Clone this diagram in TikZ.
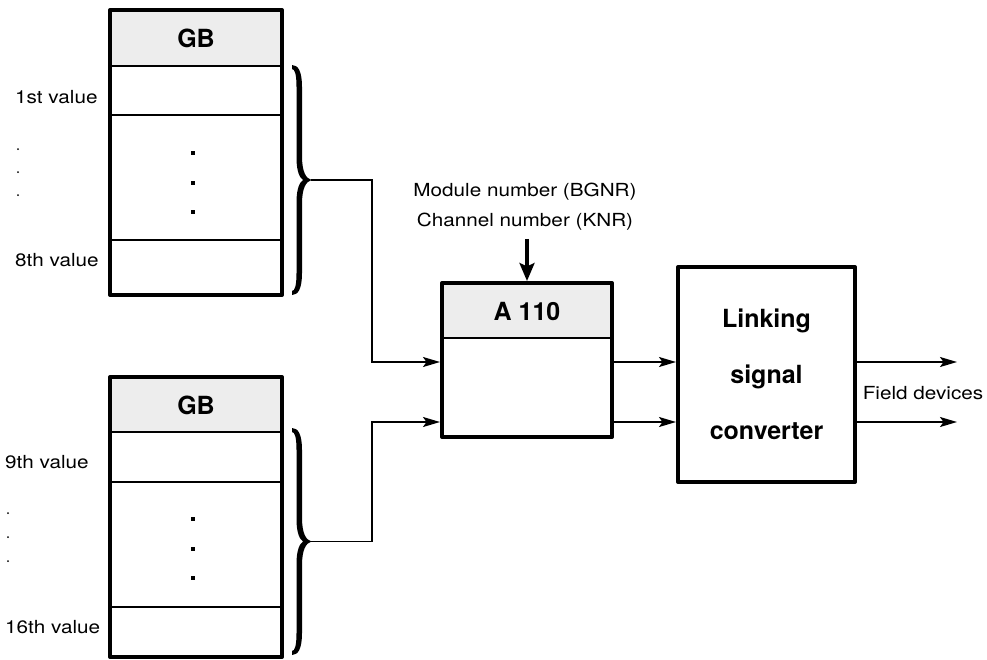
\documentclass[tikz,border=0pt]{standalone}
\usepackage{fontspec}
\setmainfont[FakeStretch=1.15]{TeX Gyre Heros}
\newfontfamily\headfam{TeX Gyre Heros}
\usetikzlibrary{arrows.meta}
\definecolor{headgray}{gray}{0.93}
\tikzset{
  frame/.style={draw, line width=4pt, line join=round},
  rowline/.style={line width=2pt},
  title/.style={font=\headfam\bfseries\fontsize{25}{28}\selectfont, inner sep=0},
  label/.style={font=\fontsize{18}{22}\selectfont, inner sep=0},
  conn/.style={line width=1.6pt, -{Stealth[length=17pt,width=10pt,inset=3.5pt]}},
  feed/.style={line width=3.5pt, -{Stealth[length=18pt,width=15pt,inset=3.5pt]}},
  bigdot/.style={fill, rectangle, minimum size=4pt, inner sep=0},
  smalldot/.style={fill, circle, minimum size=2pt, inner sep=0},
}
% filled curly brace: back edge at x=#1, from y=#2 down to y=#3, tip to the right
\newcommand\drawcurly[3]{%
  \pgfmathsetmacro\hh{(#3-#2)/2}%
  \begin{scope}[shift={(#1,#2)}]
    \fill (0,4) .. controls (3,4) and (4.5,10) .. (4.5,22)
      -- (4.5,\hh-22) .. controls (4.5,\hh-8) and (8,\hh-2) .. (11,\hh)
      .. controls (8,\hh+2) and (4.5,\hh+8) .. (4.5,\hh+22)
      -- (4.5,2*\hh-22) .. controls (4.5,2*\hh-10) and (3,2*\hh-4) .. (0,2*\hh-4)
      -- (0,2*\hh) .. controls (6,2*\hh) and (10,2*\hh-6) .. (10,2*\hh-22)
      -- (10,\hh+24) .. controls (10,\hh+8) and (14,\hh+1.5) .. (19.5,\hh)
      .. controls (14,\hh-1.5) and (10,\hh-8) .. (10,\hh-24)
      -- (10,22) .. controls (10,6) and (6,0) .. (0,0) -- cycle;
  \end{scope}}
\begin{document}
\begin{tikzpicture}[x=1pt,y=-1pt]
\useasboundingbox (0,0) rectangle (987,659);

% reference rows for the signal lines
\coordinate (r1) at (0,362);
\coordinate (r2) at (0,422);

% ---------- upper module (values 1..8) ----------
\fill[headgray] (110,10) rectangle (282,66);
\draw[rowline] (110,66) -- (282,66) (110,115) -- (282,115) (110,240) -- (282,240);
\draw[frame] (110,10) rectangle (282,295);
\node[title] (gb1) at (196,38) {GB};
\node[bigdot] (p1) at (193,153) {};
\node[bigdot] (p2) at (193,183) {};
\node[bigdot] (p3) at (193,212) {};
\node[label, anchor=west] (v1) at (15,97) {1st value};
\node[smalldot] (s1) at (18,149) {};
\node[smalldot] (s2) at (18,172) {};
\node[smalldot] (s3) at (18,195) {};
\node[label, anchor=west] (v8) at (15,260) {8th value};
\drawcurly{292}{65}{295}
\coordinate (b1) at (311,180);

% ---------- lower module (values 9..16) ----------
\fill[headgray] (110,377) rectangle (282,432);
\draw[rowline] (110,432) -- (282,432) (110,482) -- (282,482) (110,607) -- (282,607);
\draw[frame] (110,377) rectangle (282,657);
\node[title] (gb2) at (196,405) {GB};
\node[bigdot] (p4) at (193,519) {};
\node[bigdot] (p5) at (193,549) {};
\node[bigdot] (p6) at (193,578) {};
\node[label, anchor=west] (v9) at (5,462) {9th value};
\node[smalldot] (s4) at (8,513) {};
\node[smalldot] (s5) at (8,537) {};
\node[smalldot] (s6) at (8,561) {};
\node[label, anchor=west] (v16) at (5,627) {16th value};
\drawcurly{292}{428}{655}
\coordinate (b2) at (311,541.5);

% ---------- A 110 ----------
\fill[headgray] (442,283) rectangle (612,338);
\draw[rowline] (442,338) -- (612,338);
\node[frame, minimum width=170pt, minimum height=154pt] (a110) at (527,360) {};
\node[title] (a110t) at (527,311) {A 110};
\node[label, align=center, font=\fontsize{18}{30}\selectfont] (mod) at (525,207)
  {Module number (BGNR)\\Channel number (KNR)};
\draw[feed] ([yshift=-8pt]mod.south -| a110.north) -- (a110.north);

% ---------- converter ----------
\node[frame, minimum width=177pt, minimum height=215pt, align=center,
      font=\headfam\bfseries\fontsize{25}{56}\selectfont] (conv) at (766.5,374.5)
  {Linking\\signal\\converter};
\node[label] (fd) at (923,393) {Field devices};
\coordinate (o1) at (957,362);
\coordinate (o2) at (957,422);

% ---------- signal lines ----------
\draw[conn] (b1) -- (372,180) |- (a110.west |- r1);
\draw[conn] (b2) -- (372,541.5) |- (a110.west |- r2);
\draw[conn] (a110.east |- r1) -- (conv.west |- r1);
\draw[conn] (a110.east |- r2) -- (conv.west |- r2);
\draw[conn] (conv.east |- r1) -- (o1);
\draw[conn] (conv.east |- r2) -- (o2);
\end{tikzpicture}
\end{document}
